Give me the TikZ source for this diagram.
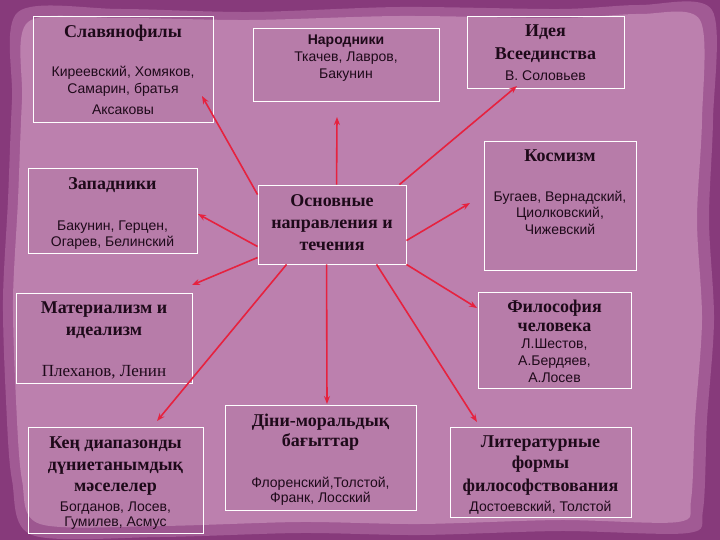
\documentclass[tikz,border=0pt]{standalone}
\usepackage{fontspec}
\setmainfont{Liberation Serif}
\newfontfamily\sansf{Liberation Sans}
\usetikzlibrary{arrows.meta,calc}
\definecolor{bgdark}{HTML}{873A7B}
\definecolor{bgmid}{HTML}{A15A94}
\definecolor{bglight}{HTML}{BC80AE}
\definecolor{arr}{HTML}{E6223F}
\definecolor{txt}{HTML}{1E0A1A}
\begin{document}
\begin{tikzpicture}[x=1pt,y=-1pt,
  box/.style={draw=white, line width=0.9pt, fill=black, fill opacity=0.025, inner sep=0pt},
  ttl/.style={font=\fontsize{18}{18}\selectfont\bfseries, text=txt, anchor=base, inner sep=0pt},
  nm/.style={font=\sansf\fontsize{14}{14}\selectfont, text=txt, anchor=base, inner sep=0pt},
  nmb/.style={font=\sansf\fontsize{14}{14}\selectfont\bfseries, text=txt, anchor=base, inner sep=0pt},
  nms/.style={font=\fontsize{17}{17}\selectfont, text=txt, anchor=base, inner sep=0pt},
  link/.style={draw=arr, line width=1.6pt, -{Stealth[length=8pt,width=6pt]}}]
\useasboundingbox (0,0) rectangle (720,540);
% background
\fill[bgdark] (0,0) rectangle (720,540);
\fill[bgmid] plot[smooth cycle] coordinates {(18,12) (120,9) (250,12) (400,7) (560,9) (640,5) (712,10) (713,120) (709,220) (714,320) (707,420) (703,510) (688,533) (560,531) (420,535) (300,533) (160,537) (32,535) (12,480) (6,400) (3,300) (8,200) (12,100)};
\fill[bglight] plot[smooth cycle] coordinates {(28,22) (120,18) (250,20) (400,16) (560,18) (640,14) (700,20) (702,120) (697,220) (702,320) (695,420) (691,500) (678,522) (560,520) (420,524) (300,522) (160,526) (40,524) (22,480) (16,400) (13,300) (18,200) (22,100)};
% boxes
\node[box, minimum width=180pt, minimum height=106pt] (slav) at (123,69) {};
\node[box, minimum width=186pt, minimum height=73pt] (narod) at (346,64.5) {};
\node[box, minimum width=157pt, minimum height=72pt] (ideya) at (545.5,52) {};
\node[box, minimum width=169pt, minimum height=85pt] (zapad) at (112.5,210.5) {};
\node[box, minimum width=148pt, minimum height=79pt] (c) at (332,224.5) {};
\node[box, minimum width=152pt, minimum height=129pt] (kosm) at (560,205.5) {};
\node[box, minimum width=176pt, minimum height=90pt] (mater) at (104,338) {};
\node[box, minimum width=153pt, minimum height=96pt] (filos) at (554.5,340) {};
\node[box, minimum width=175pt, minimum height=106pt] (ken) at (115.5,480) {};
\node[box, minimum width=191pt, minimum height=105pt] (dini) at (320.5,457.5) {};
\node[box, minimum width=181pt, minimum height=90pt] (lit) at (540.5,472) {};
% texts
\node[ttl] (t1) at (123,38) {Славянофилы};
\node[nm] (t1a) at (123,77) {Киреевский, Хомяков,};
\node[nm] (t1b) at (123,94) {Самарин, братья};
\node[nm] (t1c) at (123,115) {Аксаковы};
\node[nmb] (t2) at (346,45) {Народники};
\node[nm] (t2a) at (346,62) {Ткачев, Лавров,};
\node[nm] (t2b) at (346,79) {Бакунин};
\node[ttl] (t3) at (545.5,37) {Идея};
\node[ttl] (t3a) at (545.5,60) {Всеединства};
\node[nm] (t3b) at (545.5,81) {В. Соловьев};
\node[ttl] (t4) at (112.5,190) {Западники};
\node[nm] (t4a) at (112.5,230) {Бакунин, Герцен,};
\node[nm] (t4b) at (112.5,246) {Огарев, Белинский};
\node[ttl] (t5) at (332,207) {Основные};
\node[ttl] (t5a) at (332,229) {направления и};
\node[ttl] (t5b) at (332,250) {течения};
\node[ttl] (t6) at (560,162) {Космизм};
\node[nm] (t6a) at (560,202) {Бугаев, Вернадский,};
\node[nm] (t6b) at (560,218) {Циолковский,};
\node[nm] (t6c) at (560,235) {Чижевский};
\node[ttl] (t7) at (104,313) {Материализм и};
\node[ttl] (t7a) at (104,335) {идеализм};
\node[nms] (t7b) at (104,376) {Плеханов, Ленин};
\node[ttl] (t8) at (554.5,312) {Философия};
\node[ttl] (t8a) at (554.5,331) {человека};
\node[nm] (t8b) at (554.5,348) {Л.Шестов,};
\node[nm] (t8c) at (554.5,365) {А.Бердяев,};
\node[nm] (t8d) at (554.5,382) {А.Лосев};
\node[ttl] (t9) at (115.5,448) {Кең диапазонды};
\node[ttl] (t9a) at (115.5,470) {дүниетанымдық};
\node[ttl] (t9b) at (115.5,491) {мәселелер};
\node[nm] (t9c) at (115.5,511) {Богданов, Лосев,};
\node[nm] (t9d) at (115.5,526) {Гумилев, Асмус};
\node[ttl] (t10) at (320.5,426) {Діни-моральдық};
\node[ttl] (t10a) at (320.5,446) {бағыттар};
\node[nm] (t10b) at (320.5,487) {Флоренский,Толстой,};
\node[nm] (t10c) at (320.5,502) {Франк, Лосский};
\node[ttl] (t11) at (540.5,447) {Литературные};
\node[ttl] (t11a) at (540.5,468) {формы};
\node[ttl] (t11b) at (540.5,491) {философствования};
\node[nm] (t11c) at (540.5,511) {Достоевский, Толстой};
% arrow ends
\coordinate (e1) at (202,96);
\coordinate (e2) at (337,117);
\coordinate (e3) at (517,86);
\coordinate (e4) at (470,203);
\coordinate (e5) at (198,214);
\coordinate (e6) at (192,285);
\coordinate (e7) at (157,421);
\coordinate (e8) at (327,404);
\coordinate (e9) at (477,422);
\coordinate (e10) at (477,308);
% arrows
\draw[link] ($(c.north west)+(0,10)$) -- (e1);
\draw[link] ($(c.north west)+(79,0)$) -- (e2);
\draw[link] ($(c.north east)+(-7,0)$) -- (e3);
\draw[link] ($(c.north east)+(0,56)$) -- (e4);
\draw[link] ($(c.north west)+(0,62)$) -- (e5);
\draw[link] ($(c.north west)+(0,73)$) -- (e6);
\draw[link] ($(c.south west)+(29,0)$) -- (e7);
\draw[link] ($(c.south west)+(69,0)$) -- (e8);
\draw[link] ($(c.south west)+(119,0)$) -- (e9);
\draw[link] (c.south east) -- (e10);
\end{tikzpicture}
\end{document}
